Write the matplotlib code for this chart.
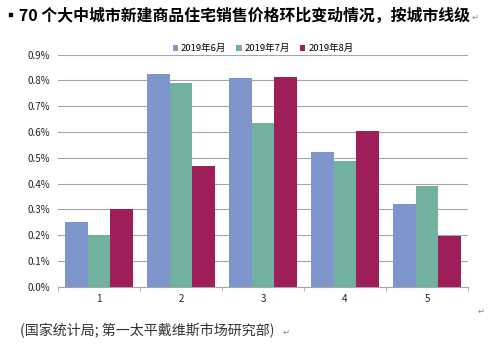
import numpy as np
import matplotlib.pyplot as plt
from matplotlib.ticker import FuncFormatter, FixedLocator

plt.rcParams['font.family'] = ['Noto Sans CJK SC', 'DejaVu Sans']

tiers = ['1', '2', '3', '4', '5']
jun = [0.25, 0.823, 0.81, 0.523, 0.32]
jul = [0.20, 0.79, 0.635, 0.486, 0.389]
aug = [0.30, 0.47, 0.815, 0.605, 0.198]
series_names = ['2019年6月', '2019年7月', '2019年8月']
colors = ['#7F96CC', '#72B0A0', '#9E1E5A']

fig = plt.figure(figsize=(5.0, 3.52), dpi=100)
ax = fig.add_axes([0.116, 0.185, 0.82, 0.66])

x = np.arange(len(tiers))
w = 0.28
for i, (vals, name, c) in enumerate(zip([jun, jul, aug], series_names, colors)):
    ax.bar(x + (i - 1) * w, vals, width=w, color=c, label=name, zorder=3)

ax.set_xlim(-0.5, len(tiers) - 0.5)
ax.set_ylim(0, 0.9)
ax.set_yticks(np.arange(0, 0.91, 0.1))
ax.yaxis.set_major_formatter(FuncFormatter(lambda v, p: f'{v:.1f}%'))
ax.grid(axis='y', color='#A6A6A6', linewidth=0.8, zorder=0)
ax.tick_params(axis='y', length=0, labelsize=7, pad=6, colors='#222222')

ax.set_xticks(x)
ax.set_xticklabels(tiers)
ax.xaxis.set_minor_locator(FixedLocator(np.arange(-0.5, len(tiers), 1.0)))
ax.tick_params(axis='x', which='major', length=0, labelsize=7, pad=5, colors='#222222')
ax.tick_params(axis='x', which='minor', length=3, color='#A6A6A6', direction='out')

for s in ['left', 'right', 'top']:
    ax.spines[s].set_visible(False)
ax.spines['bottom'].set_color('#A6A6A6')
ax.spines['bottom'].set_linewidth(0.8)

leg = ax.legend(loc='lower center', bbox_to_anchor=(0.5, 0.985), ncol=3, frameon=False,
                fontsize=6.8, handlelength=0.55, handleheight=0.55, handletextpad=0.3,
                columnspacing=1.1, borderpad=0)

fig.text(0.006, 0.955, '▪70 个大中城市新建商品住宅销售价格环比变动情况，按城市线级',
         fontsize=11.45, fontweight='bold', va='center', ha='left')
fig.text(0.944, 0.95, '↵', fontsize=6, color='#888888', va='center')
fig.text(0.955, 0.117, '↵', fontsize=6, color='#888888', va='center')
fig.text(0.04, 0.06, '(国家统计局; 第一太平戴维斯市场研究部)', fontsize=10.1,
         style='italic', color='#333333', va='center')
fig.text(0.565, 0.055, '↵', fontsize=6, color='#888888', va='center')

fig.savefig('out.png', dpi=100)
